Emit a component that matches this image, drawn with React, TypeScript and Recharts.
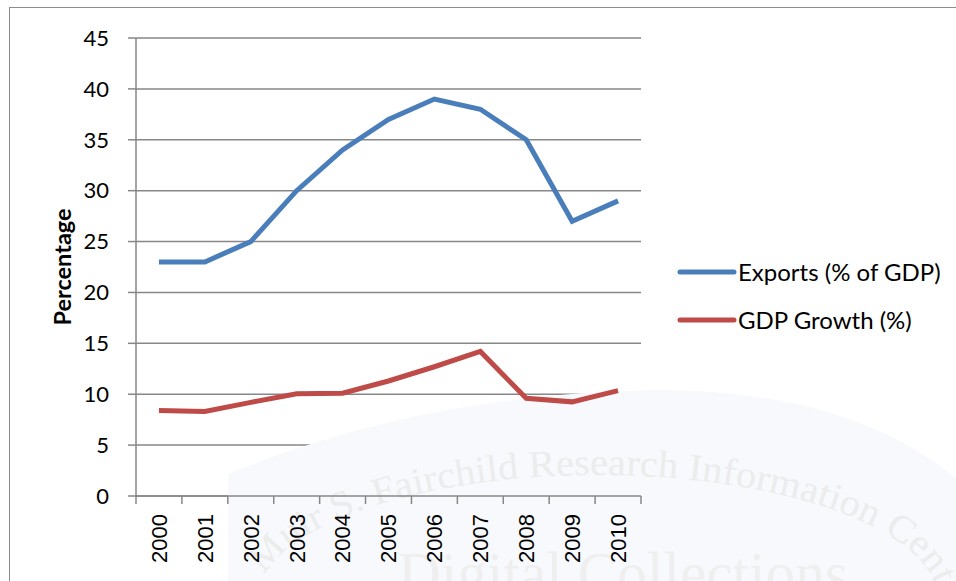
import React from 'react';
import { LineChart, Line, XAxis, YAxis, CartesianGrid, Legend, Customized } from 'recharts';

const years = ['2000', '2001', '2002', '2003', '2004', '2005', '2006', '2007', '2008', '2009', '2010'];
const exportsPct = [23, 23, 25, 30, 34, 37, 39, 38, 35, 27, 29];
const gdpGrowth = [8.4, 8.3, 9.2, 10.05, 10.1, 11.3, 12.7, 14.2, 9.6, 9.25, 10.35];
const yTicks = [0, 5, 10, 15, 20, 25, 30, 35, 40, 45];
const seriesNames = ['Exports (% of GDP)', 'GDP Growth (%)'];
const seriesColors = ['#4a7ebb', '#be4b48'];
const yLabel = 'Percentage';
const watermarkArc = 'Muir S. Fairchild Research Information Center';
const watermarkBig = 'Digital Collections';

const data = years.map((y, i) => ({ year: y, exports: exportsPct[i], gdp: gdpGrowth[i] }));

const W = 956;
const H = 581;
const PLOT_LEFT = 136;
const PLOT_RIGHT = 641;
const PLOT_TOP = 38;
const PLOT_BOTTOM = 496;
const HALF_BAND = (PLOT_RIGHT - PLOT_LEFT) / years.length / 2;
const AXIS_GRAY = '#878787';
const SANS = 'Lato, "Open Sans", sans-serif';

const XTick = (props: any) => {
  const { x, y, payload, index } = props;
  const ly = y + 18;
  return (
    <g>
      <line x1={x - HALF_BAND} x2={x - HALF_BAND} y1={y} y2={y + 8} stroke={AXIS_GRAY} strokeWidth={1.5} />
      {index === years.length - 1 && (
        <line x1={x + HALF_BAND} x2={x + HALF_BAND} y1={y} y2={y + 8} stroke={AXIS_GRAY} strokeWidth={1.5} />
      )}
      <text
        x={x}
        y={ly}
        dy="0.36em"
        textAnchor="end"
        transform={`rotate(-90, ${x}, ${ly})`}
        fill="#000"
        fontSize={22}
        fontFamily='"Liberation Sans", Arial, sans-serif'
      >
        {payload.value}
      </text>
    </g>
  );
};

const LegendContent = () => (
  <div style={{ fontFamily: SANS, fontSize: 24, color: '#000', lineHeight: 1 }}>
    {seriesNames.map((n, i) => (
      <div key={n} style={{ display: 'flex', alignItems: 'center', height: 48 }}>
        <svg width={60} height={10} style={{ marginRight: 1, flex: 'none' }}>
          <line x1={3} x2={57} y1={5} y2={5} stroke={seriesColors[i]} strokeWidth={5} strokeLinecap="round" />
        </svg>
        <span style={{ whiteSpace: 'nowrap' }}>{n}</span>
      </div>
    ))}
  </div>
);

const Watermark = () => (
  <g pointerEvents="none">
    <path
      d="M 228 474 Q 420 395 648 390 Q 850 388 960 482 L 960 581 L 228 581 Z"
      fill="#f7f9fc"
    />
    <defs>
      <path id="wmArc" d="M 258 600 A 340 125 0 0 1 938 600 L 980 660" />
    </defs>
    <text fontFamily='"Liberation Serif", serif' fontSize={38} fill="#ececec">
      <textPath href="#wmArc" startOffset="26" textLength={760} lengthAdjust="spacingAndGlyphs">
        {watermarkArc}
      </textPath>
    </text>
    <text
      x={398}
      y={594}
      fontFamily='"Liberation Serif", serif'
      fontSize={62}
      fill="#efefef"
      textLength={450}
      lengthAdjust="spacingAndGlyphs"
    >
      {watermarkBig}
    </text>
  </g>
);

export default function App() {
  return (
    <div style={{ position: 'absolute', left: 0, top: 0, width: W, height: H, background: '#fff', overflow: 'hidden' }}>
      <LineChart
        width={W}
        height={H}
        data={data}
        margin={{ top: PLOT_TOP, right: W - PLOT_RIGHT, bottom: 0, left: 0 }}
      >
        <Customized component={Watermark} />
        <CartesianGrid vertical={false} stroke={AXIS_GRAY} strokeWidth={1.5} />
        <XAxis
          dataKey="year"
          height={H - PLOT_BOTTOM}
          padding={{ left: HALF_BAND, right: HALF_BAND }}
          tickSize={0}
          tickMargin={0}
          tickLine={false}
          axisLine={{ stroke: AXIS_GRAY, strokeWidth: 1.5 }}
          tick={<XTick />}
          interval={0}
        />
        <YAxis
          width={PLOT_LEFT}
          domain={[0, 45]}
          ticks={yTicks}
          tickSize={8}
          tickMargin={19}
          axisLine={{ stroke: AXIS_GRAY, strokeWidth: 1.5 }}
          tickLine={{ stroke: AXIS_GRAY, strokeWidth: 1.5 }}
          tick={{ fill: '#000', fontSize: 22, fontFamily: SANS }}
          label={({ viewBox }: any) => (
            <text
              x={viewBox.x + 63}
              y={viewBox.y + viewBox.height / 2}
              dy="0.35em"
              textAnchor="middle"
              transform={`rotate(-90, ${viewBox.x + 63}, ${viewBox.y + viewBox.height / 2})`}
              fontFamily={SANS}
              fontWeight="bold"
              fontSize={23.5}
              fill="#000"
            >
              {yLabel}
            </text>
          )}
        />
        <Legend
          layout="vertical"
          align="center"
          verticalAlign="middle"
          wrapperStyle={{ left: 677, top: 248, width: 279 }}
          content={<LegendContent />}
        />
        <Line
          type="linear"
          dataKey="exports"
          name={seriesNames[0]}
          stroke={seriesColors[0]}
          strokeWidth={5}
          dot={false}
          isAnimationActive={false}
        />
        <Line
          type="linear"
          dataKey="gdp"
          name={seriesNames[1]}
          stroke={seriesColors[1]}
          strokeWidth={5}
          dot={false}
          isAnimationActive={false}
        />
      </LineChart>
      <div
        style={{
          position: 'absolute',
          left: 9,
          top: 7,
          width: W + 20,
          height: H + 20,
          border: '1.5px solid #8c8c8c',
          boxSizing: 'border-box',
          pointerEvents: 'none',
        }}
      />
    </div>
  );
}
